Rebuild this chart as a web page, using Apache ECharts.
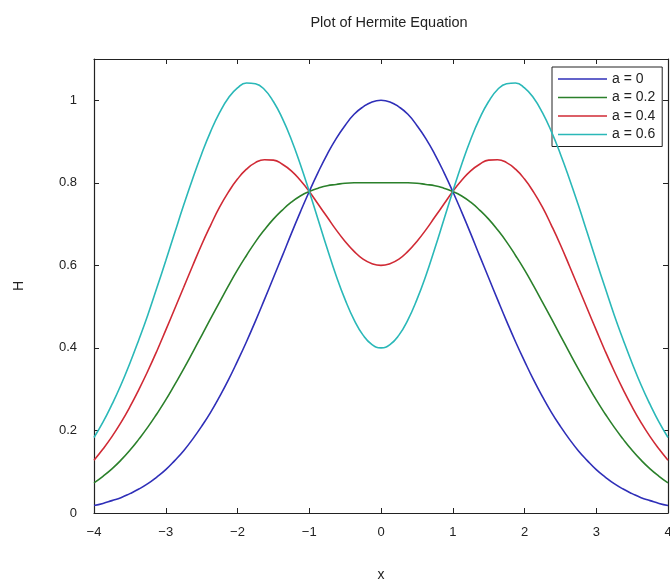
<!DOCTYPE html>
<html>
<head>
<meta charset="utf-8">
<script src="https://cdn.jsdelivr.net/npm/echarts@6/dist/echarts.min.js"></script>
<style>
  html, body { margin: 0; padding: 0; background: #fff; }
  #chart { width: 670px; height: 584px; }
</style>
</head>
<body>
<div id="chart"></div>
<script>
// Sample positions along x (step 0.125)
const xs = [-4, -3.875, -3.75, -3.625, -3.5, -3.375, -3.25, -3.125, -3, -2.875, -2.75, -2.625, -2.5, -2.375, -2.25, -2.125,
            -2, -1.875, -1.75, -1.625, -1.5, -1.375, -1.25, -1.125, -1, -0.875, -0.75, -0.625, -0.5, -0.375, -0.25, -0.125,
            0, 0.125, 0.25, 0.375, 0.5, 0.625, 0.75, 0.875, 1, 1.125, 1.25, 1.375, 1.5, 1.625, 1.75, 1.875,
            2, 2.125, 2.25, 2.375, 2.5, 2.625, 2.75, 2.875, 3, 3.125, 3.25, 3.375, 3.5, 3.625, 3.75, 3.875, 4];

// H values for each parameter a
const hA0 = [0.018, 0.023, 0.030, 0.037, 0.047, 0.058, 0.071, 0.087, 0.105, 0.127, 0.151, 0.179, 0.210, 0.244, 0.282, 0.323,
             0.368, 0.415, 0.465, 0.517, 0.570, 0.623, 0.677, 0.729, 0.779, 0.826, 0.869, 0.907, 0.939, 0.966, 0.984, 0.996,
             1.000, 0.996, 0.984, 0.966, 0.939, 0.907, 0.869, 0.826, 0.779, 0.729, 0.677, 0.623, 0.570, 0.517, 0.465, 0.415,
             0.368, 0.323, 0.282, 0.244, 0.210, 0.179, 0.151, 0.127, 0.105, 0.087, 0.071, 0.058, 0.047, 0.037, 0.030, 0.023, 0.018];
const hA02 = [0.073, 0.089, 0.107, 0.128, 0.152, 0.179, 0.208, 0.240, 0.274, 0.311, 0.349, 0.389, 0.430, 0.471, 0.511, 0.551,
              0.589, 0.624, 0.657, 0.686, 0.712, 0.734, 0.753, 0.768, 0.779, 0.787, 0.793, 0.796, 0.799, 0.800, 0.800, 0.800,
              0.800, 0.800, 0.800, 0.800, 0.799, 0.796, 0.793, 0.787, 0.779, 0.768, 0.753, 0.734, 0.712, 0.686, 0.657, 0.624,
              0.589, 0.551, 0.511, 0.471, 0.430, 0.389, 0.349, 0.311, 0.274, 0.240, 0.208, 0.179, 0.152, 0.128, 0.107, 0.089, 0.073];
const hA04 = [0.128, 0.155, 0.185, 0.219, 0.257, 0.299, 0.344, 0.392, 0.443, 0.495, 0.547, 0.599, 0.650, 0.697, 0.741, 0.778,
              0.809, 0.833, 0.849, 0.856, 0.855, 0.845, 0.829, 0.806, 0.779, 0.748, 0.717, 0.686, 0.658, 0.634, 0.615, 0.604,
              0.600, 0.604, 0.615, 0.634, 0.658, 0.686, 0.717, 0.748, 0.779, 0.806, 0.829, 0.845, 0.855, 0.856, 0.849, 0.833,
              0.809, 0.778, 0.741, 0.697, 0.650, 0.599, 0.547, 0.495, 0.443, 0.392, 0.344, 0.299, 0.257, 0.219, 0.185, 0.155, 0.128];
const hA06 = [0.183, 0.220, 0.263, 0.310, 0.363, 0.420, 0.480, 0.545, 0.611, 0.679, 0.746, 0.810, 0.870, 0.924, 0.970, 1.006,
              1.030, 1.042, 1.040, 1.026, 0.997, 0.956, 0.905, 0.845, 0.779, 0.710, 0.641, 0.575, 0.517, 0.468, 0.431, 0.408,
              0.400, 0.408, 0.431, 0.468, 0.517, 0.575, 0.641, 0.710, 0.779, 0.845, 0.905, 0.956, 0.997, 1.026, 1.040, 1.042,
              1.030, 1.006, 0.970, 0.924, 0.870, 0.810, 0.746, 0.679, 0.611, 0.545, 0.480, 0.420, 0.363, 0.310, 0.263, 0.220, 0.183];

const seriesNames = ['a = 0', 'a = 0.2', 'a = 0.4', 'a = 0.6'];
const seriesValues = [hA0, hA02, hA04, hA06];
const seriesColors = ['#2f2fb8', '#2b802b', '#d02a35', '#2ab8b8'];

const font = '"Liberation Sans", Arial, sans-serif';
const axisColor = '#222';

const chart = echarts.init(document.getElementById('chart'), null, { renderer: 'canvas' });

// Shared style for the four sides of the plot frame
const frameAxis = {
  axisLine: { show: true, onZero: false, lineStyle: { color: axisColor, width: 1.2 } },
  axisTick: { show: true, inside: true, length: 5, lineStyle: { color: axisColor } },
  splitLine: { show: false }
};

chart.setOption({
  backgroundColor: '#ffffff',
  animation: false,
  title: {
    text: 'Plot of Hermite Equation',
    left: 384,
    top: 10,
    textAlign: 'center',
    textStyle: { fontFamily: font, fontSize: 14.5, fontWeight: 'normal', color: '#222' }
  },
  legend: {
    orient: 'vertical',
    left: 552,
    top: 67,
    padding: [5, 7, 5, 6],
    icon: 'rect',
    itemWidth: 49,
    itemHeight: 1.6,
    itemGap: 4.5,
    backgroundColor: '#fff',
    borderColor: '#222',
    borderWidth: 1,
    borderRadius: 0,
    textStyle: { fontFamily: font, fontSize: 14, lineHeight: 14, color: '#222' },
    data: seriesNames
  },
  grid: { left: 94, right: 2, top: 59, bottom: 71, containLabel: false, outerBoundsMode: 'none' },
  xAxis: [
    Object.assign({}, frameAxis, {
      type: 'value', min: -4, max: 4, interval: 1, position: 'bottom',
      name: 'x', nameLocation: 'middle', nameGap: 55,
      nameTextStyle: { fontFamily: font, fontSize: 14, color: '#222' },
      axisLabel: {
        fontFamily: font, fontSize: 13, color: '#222', margin: 13,
        formatter: v => String(v).replace('-', '\u2212')
      }
    }),
    Object.assign({}, frameAxis, {
      type: 'value', min: -4, max: 4, interval: 1, position: 'top',
      axisLabel: { show: false }
    })
  ],
  yAxis: [
    Object.assign({}, frameAxis, {
      type: 'value', min: 0, max: 1.1, interval: 0.2, position: 'left',
      name: 'H', nameLocation: 'middle', nameGap: 68, nameRotate: 90,
      nameTextStyle: { fontFamily: font, fontSize: 14, color: '#222' },
      axisLabel: {
        fontFamily: font, fontSize: 13, color: '#222', margin: 17,
        showMaxLabel: false,
        formatter: v => (Math.abs(v - 1.1) < 1e-6 ? '' : String(Math.round(v * 10) / 10))
      }
    }),
    Object.assign({}, frameAxis, {
      type: 'value', min: 0, max: 1.1, interval: 0.2, position: 'right',
      axisLabel: { show: false }
    })
  ],
  series: seriesValues.map((vals, i) => ({
    name: seriesNames[i],
    type: 'line',
    xAxisIndex: 0,
    yAxisIndex: 0,
    data: xs.map((x, k) => [x, vals[k]]),
    smooth: 0.5,
    symbol: 'none',
    showSymbol: false,
    color: seriesColors[i],
    lineStyle: { color: seriesColors[i], width: 1.6 },
    z: 2 + i
  }))
});
</script>
</body>
</html>
